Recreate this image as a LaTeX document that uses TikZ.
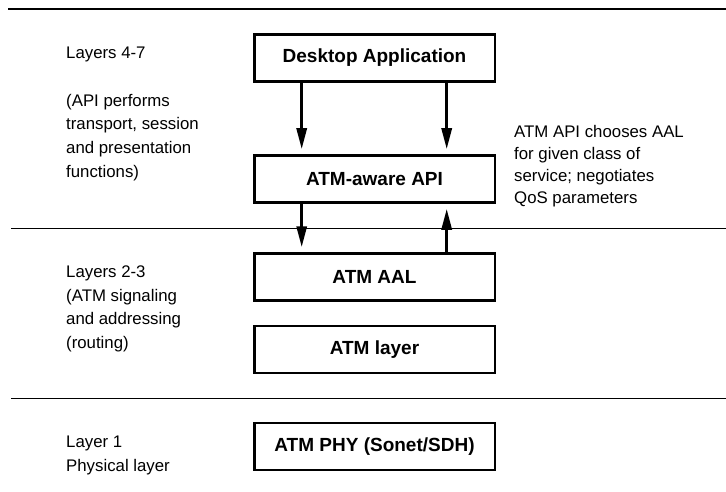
\documentclass[tikz,border=0pt]{standalone}
\usepackage{fontspec}
\setmainfont{Liberation Sans}
\usetikzlibrary{arrows.meta}

\tikzset{
  layerbox/.style={draw, line width=2.5pt, minimum width=240.5pt, minimum height=47pt,
    inner sep=0pt, font={\fontsize{19pt}{22pt}\selectfont\bfseries}},
  % multi-line notes are anchored at the baseline of their last line
  note/.style={align=left, inner sep=0pt, anchor=base west,
    font={\fontsize{16.8pt}{23.7pt}\selectfont}},
  rnote/.style={note, font={\fontsize{16.8pt}{21.9pt}\selectfont}},
  divider/.style={line width=1.3pt},
  flow/.style={line width=3pt, -{Triangle[length=21pt,width=10pt]}, shorten >=5pt},
}

\begin{document}
\begin{tikzpicture}[x=1pt, y=-1pt]
  \useasboundingbox (0,0) rectangle (726,492);

  % layer separators
  \coordinate (t0) at (8,9.3);   \coordinate (t1) at (726,9.3);
  \coordinate (m0) at (11,228.3); \coordinate (m1) at (726,228.3);
  \coordinate (b0) at (11,398.3); \coordinate (b1) at (726,398.3);
  \draw[divider, line width=1.6pt] (t0) -- (t1);
  \draw[divider] (m0) -- (m1);
  \draw[divider] (b0) -- (b1);

  % protocol stack
  \node[layerbox] (desk) at (374.5,58)    {Desktop Application};
  \node[layerbox] (api)  at (374.5,179)   {ATM-aware API};
  \node[layerbox] (aal)  at (374.5,277)   {ATM AAL};
  \node[layerbox] (atm)  at (374.5,349.5) {ATM layer};
  \node[layerbox] (phy)  at (374.5,446.5) {ATM PHY (Sonet/SDH)};

  % data paths
  \draw[flow] ([xshift=-72.8pt]desk.south) -- ([xshift=-72.8pt]api.north);
  \draw[flow] ([xshift=72.2pt]desk.south)  -- ([xshift=72.2pt]api.north);
  \draw[flow] ([xshift=-72.8pt]api.south)  -- ([xshift=-72.8pt]aal.north);
  \draw[flow] ([xshift=72.2pt]aal.north)   -- ([xshift=72.2pt]api.south);

  % layer descriptions
  \node[note] (l47) at (66,58.3) {Layers 4-7};
  \node[note] (l47d) at (66,177.4) {(API performs\\transport, session\\and presentation\\functions)};
  \node[note] (l23) at (66,348.4) {Layers 2-3\\(ATM signaling\\and addressing\\(routing)};
  \node[note] (l1) at (66,471) {Layer 1\\Physical layer};
  \node[rnote] (apin) at (514,203.4) {ATM API chooses AAL\\for given class of\\service; negotiates\\QoS parameters};
\end{tikzpicture}
\end{document}
